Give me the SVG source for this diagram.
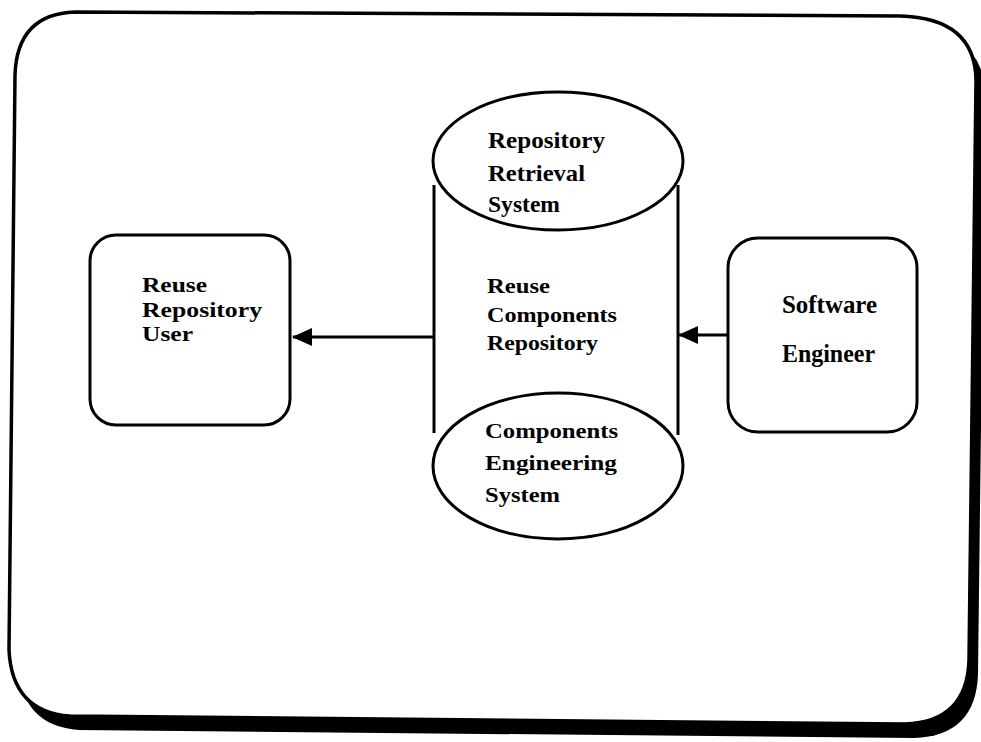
<svg xmlns="http://www.w3.org/2000/svg" width="981" height="742" viewBox="0 0 981 742">
  <style>
    .ln { fill: none; stroke: #000; stroke-width: 3; }
    .box { fill: #fff; stroke: #000; stroke-width: 3; }
    .t { font-family: "Liberation Serif", "Times New Roman", serif; font-weight: bold; fill: #000; }
  </style>
  <defs>
    <marker id="ah" viewBox="0 0 20 18" refX="19" refY="9" markerWidth="20" markerHeight="18" markerUnits="userSpaceOnUse" orient="auto">
      <path d="M0,0 L20,9 L0,18 Z" fill="#000"/>
    </marker>
  </defs>
  <rect width="981" height="742" fill="#fff"/>
  <g id="frame">
    <path d="M75,12 L900,16 Q975,18 976,80 L969,660 Q967,722 905,724 L70,716 Q12,712 9,650 L15,75 Q17,14 75,12 Z" transform="translate(9,14)" fill="#000"/>
    <path d="M75,12 L900,16 Q975,18 976,80 L969,660 Q967,722 905,724 L70,716 Q12,712 9,650 L15,75 Q17,14 75,12 Z" fill="#fff" stroke="#000" stroke-width="3.5"/>
  </g>
  <g id="connectors">
    <line class="ln" x1="433" y1="337" x2="293" y2="337" marker-end="url(#ah)"/>
    <line class="ln" x1="728" y1="335" x2="679" y2="335" marker-end="url(#ah)"/>
  </g>
  <g id="reuse-repository-user">
    <rect class="box" x="90" y="235" width="200" height="190" rx="26"/>
    <text class="t" font-size="22"><tspan x="142" y="292" textLength="65" lengthAdjust="spacingAndGlyphs">Reuse</tspan><tspan x="142" y="317" textLength="120" lengthAdjust="spacingAndGlyphs">Repository</tspan><tspan x="142" y="341" textLength="51" lengthAdjust="spacingAndGlyphs">User</tspan></text>
  </g>
  <g id="reuse-components-repository">
    <line class="ln" x1="434" y1="185" x2="434" y2="433"/>
    <line class="ln" x1="678" y1="185" x2="678" y2="435"/>
    <text class="t" font-size="22"><tspan x="487" y="293" textLength="63" lengthAdjust="spacingAndGlyphs">Reuse</tspan><tspan x="487" y="322" textLength="130" lengthAdjust="spacingAndGlyphs">Components</tspan><tspan x="487" y="350" textLength="111" lengthAdjust="spacingAndGlyphs">Repository</tspan></text>
  </g>
  <g id="repository-retrieval-system">
    <ellipse class="box" cx="558" cy="161" rx="125" ry="69"/>
    <text class="t" font-size="24"><tspan x="488" y="148" textLength="117" lengthAdjust="spacingAndGlyphs">Repository</tspan><tspan x="488" y="181" textLength="97" lengthAdjust="spacingAndGlyphs">Retrieval</tspan><tspan x="488" y="212" textLength="72" lengthAdjust="spacingAndGlyphs">System</tspan></text>
  </g>
  <g id="components-engineering-system">
    <ellipse class="box" cx="558" cy="466" rx="125" ry="73"/>
    <text class="t" font-size="22"><tspan x="485" y="438" textLength="133" lengthAdjust="spacingAndGlyphs">Components</tspan><tspan x="485" y="470" textLength="132" lengthAdjust="spacingAndGlyphs">Engineering</tspan><tspan x="485" y="502" textLength="75" lengthAdjust="spacingAndGlyphs">System</tspan></text>
  </g>
  <g id="software-engineer">
    <rect class="box" x="728" y="238" width="189" height="194" rx="30"/>
    <text class="t" font-size="25"><tspan x="782" y="313" textLength="95" lengthAdjust="spacingAndGlyphs">Software</tspan><tspan x="782" y="362" textLength="93" lengthAdjust="spacingAndGlyphs">Engineer</tspan></text>
  </g>
</svg>
